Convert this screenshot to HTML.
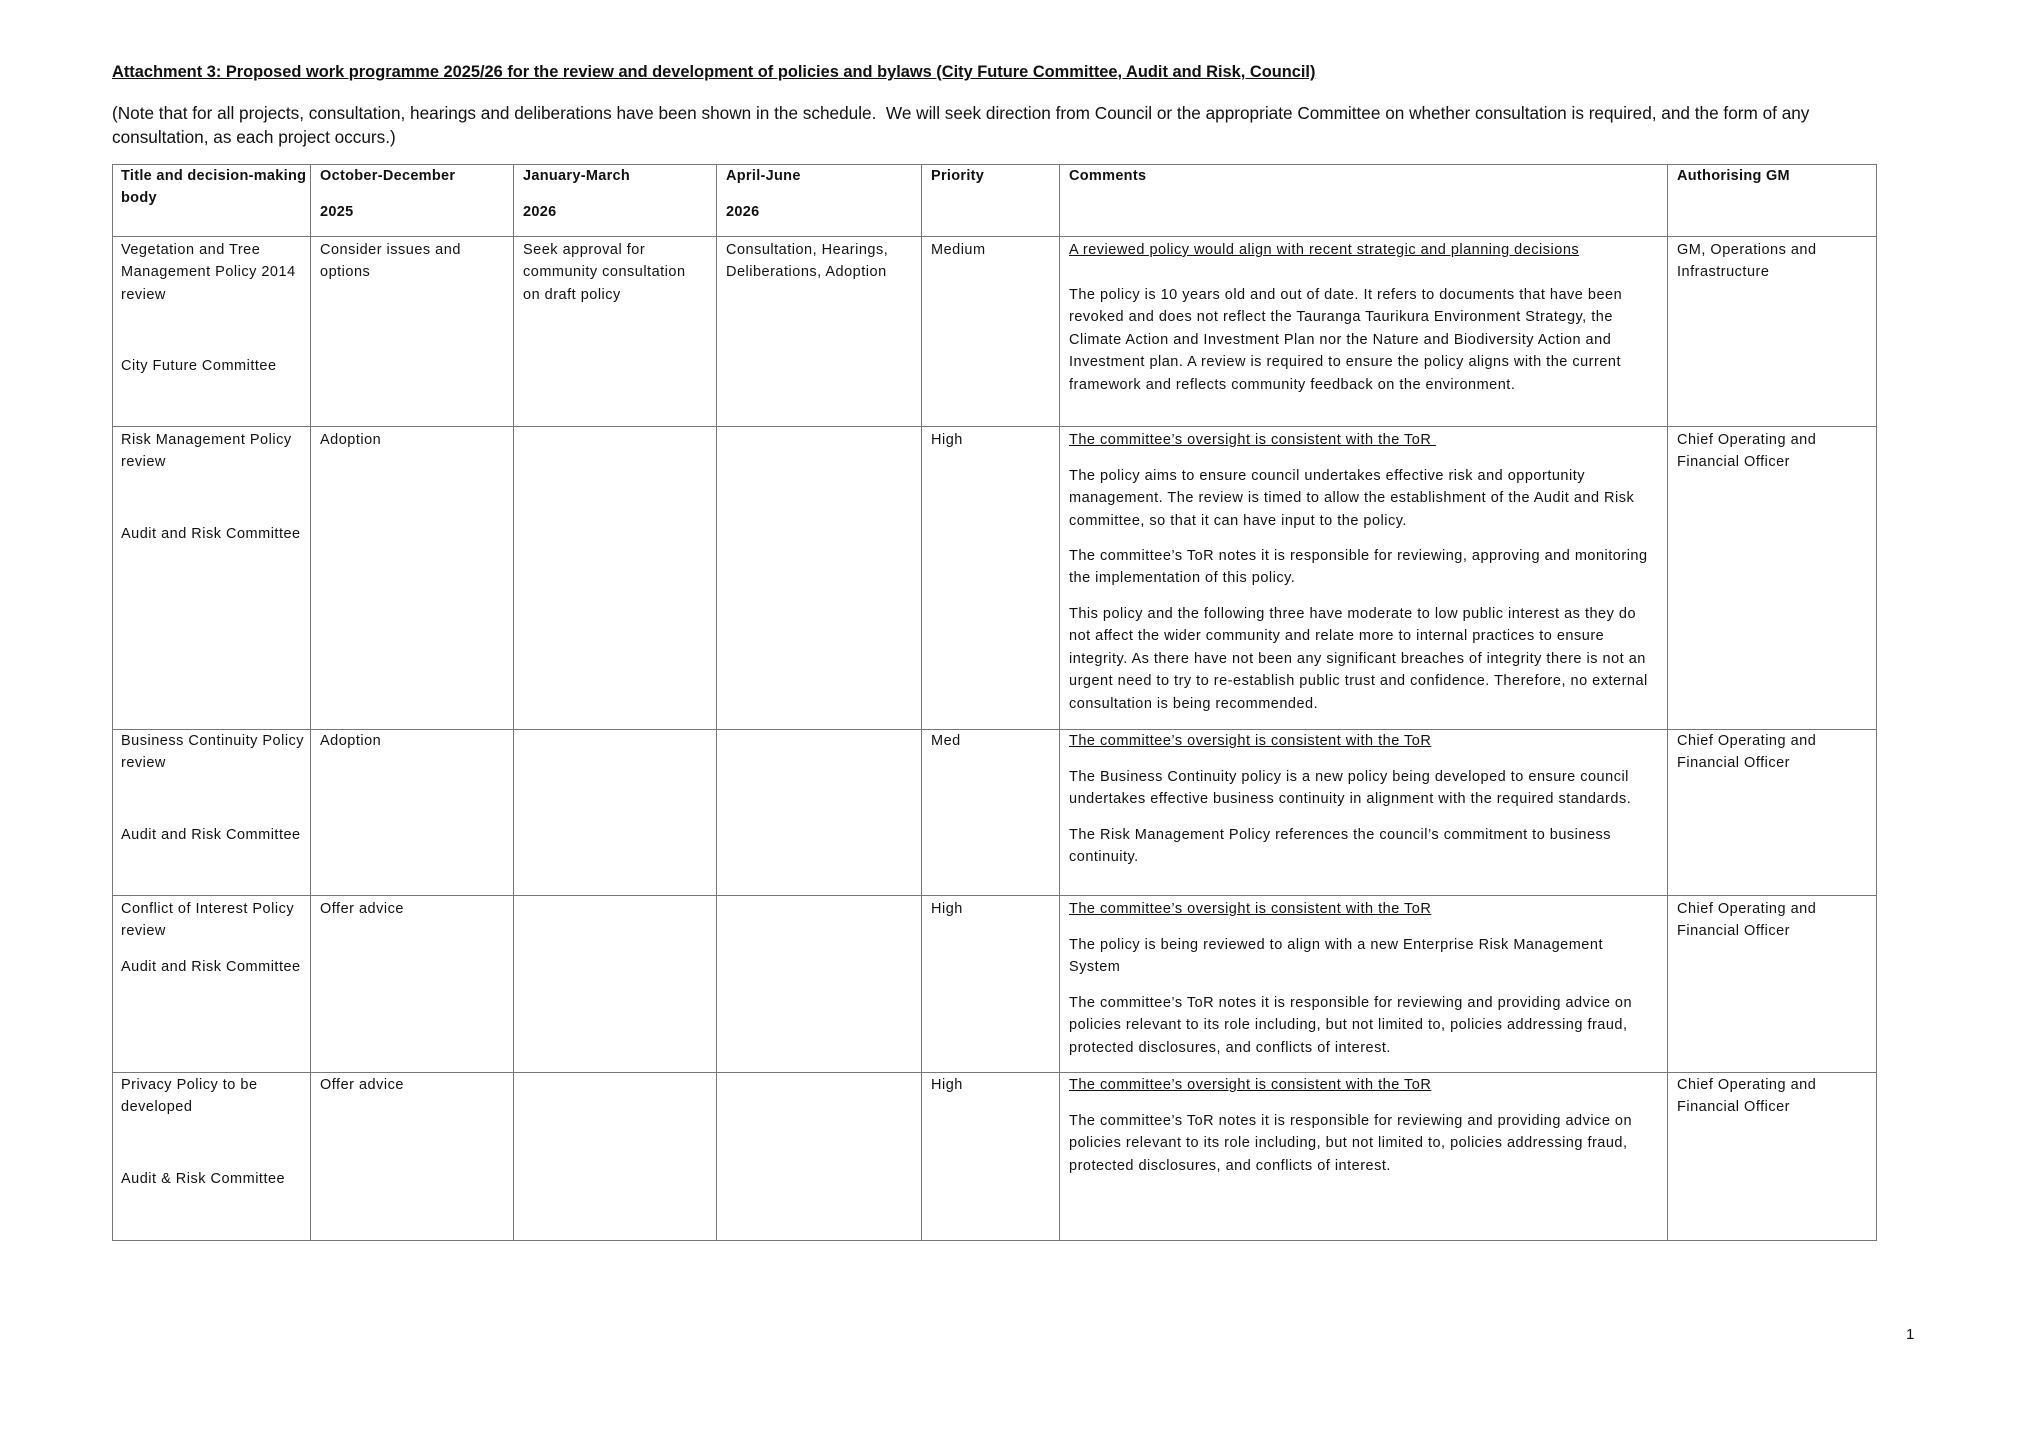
<!DOCTYPE html>
<html><head><meta charset="utf-8"><style>
html,body{margin:0;padding:0;background:#fff;}
body{width:2026px;height:1432px;position:relative;overflow:hidden;font-family:"Liberation Sans",Arial,sans-serif;color:#111;}
.t{position:absolute;white-space:nowrap;font-size:14.5px;letter-spacing:0.5px;line-height:22.4px;margin-top:1px;}
.b{font-weight:bold;letter-spacing:0.3px;}
.u{text-decoration:underline;}
.h{position:absolute;background:#777;height:1.3px;left:112px;width:1765px;}
.v{position:absolute;background:#777;width:1.3px;top:164px;height:1077px;}
</style></head><body>
<div class="t b u" style="left:112px;top:60px;font-size:16.4px;letter-spacing:0;">Attachment 3: Proposed work programme 2025/26 for the review and development of policies and bylaws (City Future Committee, Audit and Risk, Council)</div>
<div class="t" style="left:112px;top:99.5px;font-size:17.2px;letter-spacing:0;line-height:24.4px;">(Note that for all projects, consultation, hearings and deliberations have been shown in the schedule.&nbsp; We will seek direction from Council or the appropriate Committee on whether consultation is required, and the form of any<br>consultation, as each project occurs.)</div>

<div class="h" style="top:164px"></div>
<div class="h" style="top:236px"></div>
<div class="h" style="top:426px"></div>
<div class="h" style="top:729px"></div>
<div class="h" style="top:895px"></div>
<div class="h" style="top:1072px"></div>
<div class="h" style="top:1240px"></div>
<div class="v" style="left:112px"></div>
<div class="v" style="left:310px"></div>
<div class="v" style="left:513px"></div>
<div class="v" style="left:716px"></div>
<div class="v" style="left:921px"></div>
<div class="v" style="left:1059px"></div>
<div class="v" style="left:1667px"></div>
<div class="v" style="left:1876px"></div>

<!-- header -->
<div class="t b" style="left:121px;top:164px">Title and decision-making<br>body</div>
<div class="t b" style="left:320px;top:164px">October-December</div>
<div class="t b" style="left:320px;top:200px">2025</div>
<div class="t b" style="left:523px;top:164px">January-March</div>
<div class="t b" style="left:523px;top:200px">2026</div>
<div class="t b" style="left:726px;top:164px">April-June</div>
<div class="t b" style="left:726px;top:200px">2026</div>
<div class="t b" style="left:931px;top:164px">Priority</div>
<div class="t b" style="left:1069px;top:164px">Comments</div>
<div class="t b" style="left:1677px;top:164px">Authorising GM</div>

<!-- row 1 -->
<div class="t" style="left:121px;top:238px">Vegetation and Tree<br>Management Policy 2014<br>review</div>
<div class="t" style="left:121px;top:354px">City Future Committee</div>
<div class="t" style="left:320px;top:238px">Consider issues and<br>options</div>
<div class="t" style="left:523px;top:238px">Seek approval for<br>community consultation<br>on draft policy</div>
<div class="t" style="left:726px;top:238px">Consultation, Hearings,<br>Deliberations, Adoption</div>
<div class="t" style="left:931px;top:238px">Medium</div>
<div class="t u" style="left:1069px;top:238px">A reviewed policy would align with recent strategic and planning decisions</div>
<div class="t" style="left:1069px;top:283px">The policy is 10 years old and out of date. It refers to documents that have been<br>revoked and does not reflect the Tauranga Taurikura Environment Strategy, the<br>Climate Action and Investment Plan nor the Nature and Biodiversity Action and<br>Investment plan. A review is required to ensure the policy aligns with the current<br>framework and reflects community feedback on the environment.</div>
<div class="t" style="left:1677px;top:238px">GM, Operations and<br>Infrastructure</div>

<!-- row 2 -->
<div class="t" style="left:121px;top:428px">Risk Management Policy<br>review</div>
<div class="t" style="left:121px;top:522px">Audit and Risk Committee</div>
<div class="t" style="left:320px;top:428px">Adoption</div>
<div class="t" style="left:931px;top:428px">High</div>
<div class="t u" style="left:1069px;top:428px">The committee’s oversight is consistent with the ToR&nbsp;</div>
<div class="t" style="left:1069px;top:464px">The policy aims to ensure council undertakes effective risk and opportunity<br>management. The review is timed to allow the establishment of the Audit and Risk<br>committee, so that it can have input to the policy.</div>
<div class="t" style="left:1069px;top:544px">The committee’s ToR notes it is responsible for reviewing, approving and monitoring<br>the implementation of this policy.</div>
<div class="t" style="left:1069px;top:602px">This policy and the following three have moderate to low public interest as they do<br>not affect the wider community and relate more to internal practices to ensure<br>integrity. As there have not been any significant breaches of integrity there is not an<br>urgent need to try to re-establish public trust and confidence. Therefore, no external<br>consultation is being recommended.</div>
<div class="t" style="left:1677px;top:428px">Chief Operating and<br>Financial Officer</div>

<!-- row 3 -->
<div class="t" style="left:121px;top:729px">Business Continuity Policy<br>review</div>
<div class="t" style="left:121px;top:823px">Audit and Risk Committee</div>
<div class="t" style="left:320px;top:729px">Adoption</div>
<div class="t" style="left:931px;top:729px">Med</div>
<div class="t u" style="left:1069px;top:729px">The committee’s oversight is consistent with the ToR</div>
<div class="t" style="left:1069px;top:765px">The Business Continuity policy is a new policy being developed to ensure council<br>undertakes effective business continuity in alignment with the required standards.</div>
<div class="t" style="left:1069px;top:823px">The Risk Management Policy references the council’s commitment to business<br>continuity.</div>
<div class="t" style="left:1677px;top:729px">Chief Operating and<br>Financial Officer</div>

<!-- row 4 -->
<div class="t" style="left:121px;top:897px">Conflict of Interest Policy<br>review</div>
<div class="t" style="left:121px;top:955px">Audit and Risk Committee</div>
<div class="t" style="left:320px;top:897px">Offer advice</div>
<div class="t" style="left:931px;top:897px">High</div>
<div class="t u" style="left:1069px;top:897px">The committee’s oversight is consistent with the ToR</div>
<div class="t" style="left:1069px;top:933px">The policy is being reviewed to align with a new Enterprise Risk Management<br>System</div>
<div class="t" style="left:1069px;top:991px">The committee’s ToR notes it is responsible for reviewing and providing advice on<br>policies relevant to its role including, but not limited to, policies addressing fraud,<br>protected disclosures, and conflicts of interest.</div>
<div class="t" style="left:1677px;top:897px">Chief Operating and<br>Financial Officer</div>

<!-- row 5 -->
<div class="t" style="left:121px;top:1073px">Privacy Policy to be<br>developed</div>
<div class="t" style="left:121px;top:1167px">Audit &amp; Risk Committee</div>
<div class="t" style="left:320px;top:1073px">Offer advice</div>
<div class="t" style="left:931px;top:1073px">High</div>
<div class="t u" style="left:1069px;top:1073px">The committee’s oversight is consistent with the ToR</div>
<div class="t" style="left:1069px;top:1109px">The committee’s ToR notes it is responsible for reviewing and providing advice on<br>policies relevant to its role including, but not limited to, policies addressing fraud,<br>protected disclosures, and conflicts of interest.</div>
<div class="t" style="left:1677px;top:1073px">Chief Operating and<br>Financial Officer</div>

<div class="t" style="left:1906px;top:1323px;font-size:15px;">1</div>
</body></html>
